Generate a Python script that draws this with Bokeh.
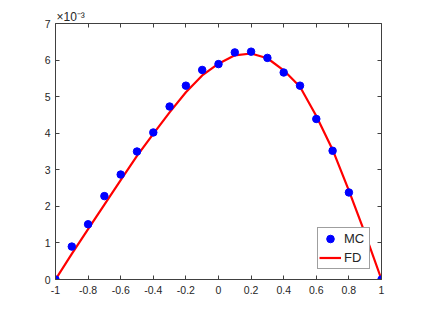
from bokeh.plotting import figure
from bokeh.models import (LinearAxis, FixedTicker, CustomJSTickFormatter, Title,
                          Legend, LegendItem, ColumnDataSource, Range1d)
from bokeh.embed import file_html
from bokeh.resources import INLINE

# data (y in units of 1e-3)
x_mc = [-1.0, -0.9, -0.8, -0.7, -0.6, -0.5, -0.4, -0.3, -0.2, -0.1, 0.0,
        0.1, 0.2, 0.3, 0.4, 0.5, 0.6, 0.7, 0.8, 0.9, 1.0]
y_mc = [0.0, 0.90, 1.51, 2.28, 2.87, 3.50, 4.02, 4.73, 5.30, 5.73, 5.89,
        6.21, 6.23, 6.06, 5.66, 5.30, 4.39, 3.52, 2.38, 1.30, 0.0]
x_fd = [-1.0, -0.9, -0.8, -0.7, -0.6, -0.5, -0.4, -0.3, -0.2, -0.1, 0.0,
        0.1, 0.2, 0.3, 0.4, 0.5, 0.6, 0.7, 0.8, 0.9, 1.0]
y_fd = [0.0, 0.70, 1.38, 2.05, 2.72, 3.38, 3.98, 4.57, 5.12, 5.58, 5.90,
        6.13, 6.18, 6.05, 5.72, 5.27, 4.47, 3.55, 2.43, 1.25, 0.0]
x_ticks = [-1, -0.8, -0.6, -0.4, -0.2, 0, 0.2, 0.4, 0.6, 0.8, 1]
y_ticks = [0, 1, 2, 3, 4, 5, 6, 7]
exponent_label = "×10⁻³"

FONT = "Liberation Sans"
AX = "#404040"
LBL = "#262626"

p = figure(width=413, height=306, output_backend="svg", toolbar_location=None,
           x_range=Range1d(-1, 1), y_range=Range1d(0, 7),
           min_border_left=55, min_border_right=32, min_border_top=23,
           min_border_bottom=27, x_axis_location=None, y_axis_location=None)
p.grid.visible = False
p.outline_line_color = None
p.background_fill_color = "white"
p.border_fill_color = "white"

fmt = CustomJSTickFormatter(code="var s = tick.toFixed(1); if (s.endsWith('.0')) s = s.slice(0, -2); if (s == '-0') s = '0'; return s;")
blank = CustomJSTickFormatter(code="return '';")

def style(ax, labels=True):
    ax.axis_line_color = AX
    ax.axis_line_width = 1
    ax.major_tick_line_color = AX
    ax.major_tick_in = 4
    ax.major_tick_out = 0
    ax.minor_tick_line_color = None
    ax.major_label_text_font = FONT
    ax.major_label_text_color = LBL
    ax.major_label_text_font_size = "10.5px"
    ax.major_label_standoff = 5 if labels else 0

bx = LinearAxis(ticker=FixedTicker(ticks=x_ticks), formatter=fmt)
style(bx)
bx.major_label_standoff = 6
p.add_layout(bx, "below")
ly = LinearAxis(ticker=FixedTicker(ticks=y_ticks), formatter=fmt)
style(ly)
p.add_layout(ly, "left")
tx = LinearAxis(ticker=FixedTicker(ticks=x_ticks), formatter=blank)
style(tx, labels=False)
p.add_layout(tx, "above")
ry = LinearAxis(ticker=FixedTicker(ticks=y_ticks), formatter=blank)
style(ry, labels=False)
p.add_layout(ry, "right")

src_fd = ColumnDataSource(dict(x=x_fd, y=y_fd))
src_mc = ColumnDataSource(dict(x=x_mc, y=y_mc))
r_fd = p.line("x", "y", source=src_fd, line_color="#ff0000", line_width=2.2)
r_mc = p.scatter("x", "y", source=src_mc, size=7.5, marker="circle",
                 fill_color="#0000ff", line_color="#0000ff")

legend = Legend(items=[LegendItem(label="MC", renderers=[r_mc]),
                       LegendItem(label="FD", renderers=[r_fd])],
                location=(262, 10), padding=1, spacing=0, margin=0,
                glyph_width=22, glyph_height=19, label_height=19,
                label_width=24, label_standoff=3, label_text_font=FONT,
                label_text_font_size="13px", label_text_color=LBL,
                border_line_color=AX, border_line_width=1,
                background_fill_color="white", background_fill_alpha=1,
                level="overlay")
p.add_layout(legend, "center")

p.add_layout(Title(text=exponent_label, align="left", offset=1, standoff=0,
                   text_font=FONT, text_font_size="12px", text_color=LBL,
                   text_font_style="normal"), "above")

open("out.html", "w").write(file_html(p, INLINE))
